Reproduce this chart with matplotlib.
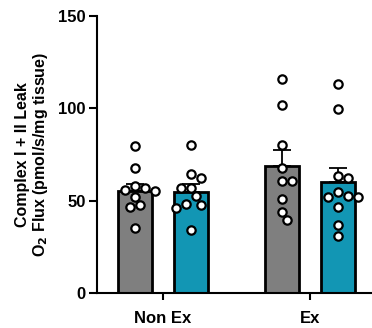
import numpy as np
import matplotlib
matplotlib.use("Agg")
import matplotlib.pyplot as plt

plt.rcParams['font.family'] = ['Liberation Sans', 'DejaVu Sans']
plt.rcParams['font.weight'] = 'bold'

# values
groups = ["Non Ex", "Ex"]
nonex_grey = [79.6, 67.5, 55.8, 55.4, 56.7, 57.9, 52.1, 47.6, 46.7, 35.4]
nonex_teal = [80.1, 64.3, 62.1, 57.1, 57.1, 52.5, 48.2, 45.9, 47.6, 34.1]
ex_grey = [115.9, 101.8, 80.1, 67.5, 60.6, 60.6, 50.7, 44.0, 39.5]
ex_teal = [113.0, 99.6, 62.1, 63.5, 54.5, 51.8, 52.1, 52.7, 46.7, 36.8, 31.0]

series = [[nonex_grey, ex_grey], [nonex_teal, ex_teal]]
colors = ["#7f7f7f", "#1296b4"]

fig = plt.figure(figsize=(3.72, 3.28), dpi=100)
ax = fig.add_axes([0.2608, 0.1067, 0.739, 0.8445])

offset = 0.19
width = 0.231
px_x = 147.0     # pixels per x unit
px_y = 1.847     # pixels per y unit
diam = 10.0      # marker diameter in px


def swarm(vals):
    # simple beeswarm: place each point at the nearest free slot
    placed = []
    offs = np.zeros(len(vals))
    order = np.argsort(vals)[::-1]
    for i in order:
        y = vals[i] * px_y
        k = 0
        while True:
            cands = [0.0] if k == 0 else [k * diam, -k * diam]
            ok = None
            for c in cands:
                if all((c - px) ** 2 + (y - py) ** 2 >= (diam * 0.95) ** 2 for px, py in placed):
                    ok = c
                    break
            if ok is not None:
                placed.append((ok, y))
                offs[i] = ok / px_x
                break
            k += 0.5
    return offs


for s, (grp_vals, col) in enumerate(zip(series, colors)):
    for g, vals in enumerate(grp_vals):
        vals = np.array(vals)
        x = g + (-offset if s == 0 else offset)
        m = vals.mean()
        sem = vals.std(ddof=1) / np.sqrt(len(vals))
        ax.bar(x, m, width=width, color=col, edgecolor="black", linewidth=2.0, zorder=2)
        ax.errorbar(x, m, yerr=[[0], [sem]], fmt="none", ecolor="black",
                    elinewidth=1.3, capsize=6.5, capthick=1.3, zorder=3)
        ax.plot(x + swarm(vals), vals, "o", ms=6.0, mfc="white", mec="black",
                mew=1.6, zorder=4, clip_on=False)

ax.set_xlim(-0.449, 1.42)
ax.set_ylim(0, 150)
ax.set_yticks([0, 50, 100, 150])
ax.set_xticks([0, 1])
ax.set_xticklabels(groups, fontsize=12, fontweight="bold")
for lab in ax.get_yticklabels():
    lab.set_fontsize(12)
    lab.set_fontweight("bold")

ax.spines["top"].set_visible(False)
ax.spines["right"].set_visible(False)
ax.spines["left"].set_linewidth(1.5)
ax.spines["bottom"].set_linewidth(1.5)
ax.tick_params(axis="y", length=6, width=1.5, pad=2)
ax.tick_params(axis="x", length=5, width=1.5, pad=8)

ax.set_ylabel("Complex I + II Leak\nO$_\\mathbf{2}$ Flux (pmol/s/mg tissue)",
              fontsize=11.5, fontweight="bold", labelpad=6, linespacing=1.1)

fig.savefig("out.png", dpi=100)
